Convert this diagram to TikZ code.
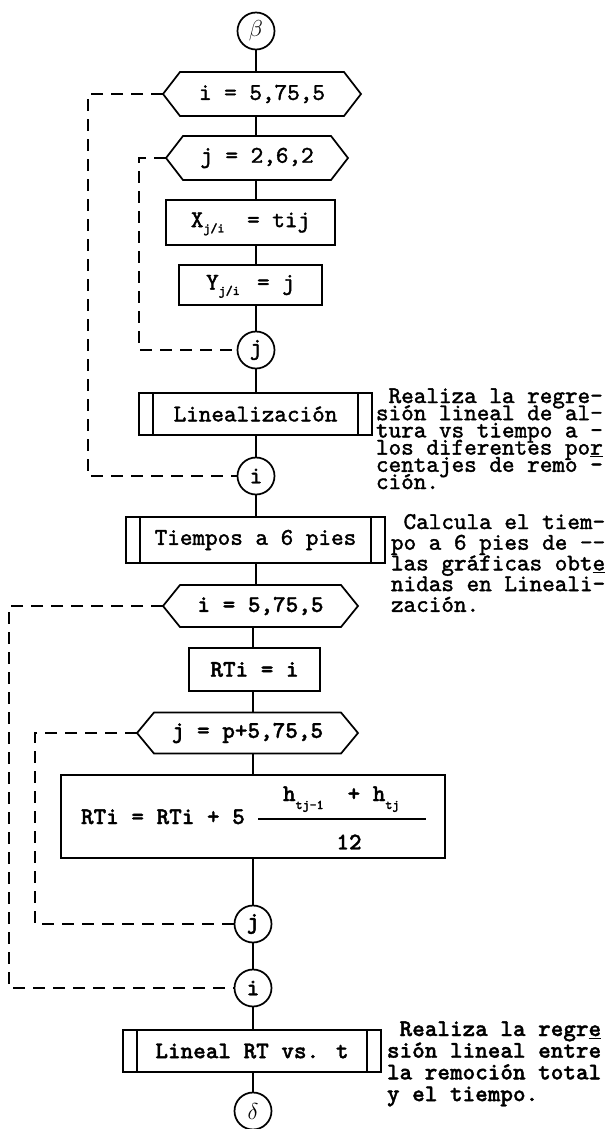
\documentclass[tikz,border=0pt]{standalone}
\usepackage{fontspec}
\newfontfamily\twr{lmmono10-regular.otf}[FakeBold=1.6]
\newfontfamily\twb{lmmonolt10-bold.otf}[FakeBold=1.4]
\newcommand\tsub[2][-4pt]{\raisebox{#1}[0pt][0pt]{\twb\fontsize{10}{10}\selectfont #2}}
\newcommand\hexdraw[1]{%
  \draw[flow] (#1.north west) -- (#1.north east) -- ([xshift=12.75pt]#1.east) -- (#1.south east) -- (#1.south west) -- ([xshift=-12.75pt]#1.west) -- cycle;
  \coordinate (#1-tip) at ([xshift=-12.75pt]#1.west);}
\tikzset{
  every node/.style={font=\twr\fontsize{18}{18}\selectfont, inner sep=0pt, outer sep=0pt},
  bold/.style={font=\twb\fontsize{18}{18}\selectfont},
  flow/.style={line width=1.3pt},
  box/.style={draw, rectangle, line width=1.3pt},
  proc/.style={box, path picture={
      \draw[line width=1.3pt] ([xshift=10.5pt]path picture bounding box.north west) -- ([xshift=10.5pt]path picture bounding box.south west);
      \draw[line width=1.3pt] ([xshift=-10.5pt]path picture bounding box.north east) -- ([xshift=-10.5pt]path picture bounding box.south east);}},
  conn/.style={draw, circle, line width=1.3pt, minimum size=27.75pt},
  hexn/.style={rectangle},
  loopline/.style={line width=1.2pt, dash pattern=on 9pt off 6pt},
  ann/.style={anchor=base west},
}
\begin{document}
\begin{tikzpicture}[x=0.75pt,y=-0.75pt]
\useasboundingbox[fill=white] (0,0) rectangle (609,1129);

% ---- first part
\node[conn] (beta) at (256,31) {$\beta$};
\node[hexn, minimum width=123pt, minimum height=33pt] (hi1) at (262,94) {i = 5,75,5};
\hexdraw{hi1}
\node[hexn, minimum width=111pt, minimum height=33pt] (hj1) at (257,158) {j = 2,6,2};
\hexdraw{hj1}
\node[box, minimum width=126.75pt, minimum height=33.75pt] (bx) at (250.5,222.5) {X\tsub{j/i}\hspace{17pt}= tij};
\node[box, minimum width=107.25pt, minimum height=30pt] (by) at (250.5,285) {Y\tsub{j/i}\hspace{13pt}= j};
\node[conn] (cj1) at (256,350) {j};
\node[proc, minimum width=174.75pt, minimum height=31.5pt] (lin) at (255.5,414) {Linealización};
\node[conn] (ci1) at (256,476) {i};
\node[proc, minimum width=194.25pt, minimum height=34.5pt] (tie) at (255.5,540) {Tiempos a 6 pies};

% ---- second part
\node[hexn, bold, minimum width=120.75pt, minimum height=31.5pt] (hi2) at (260.5,606) {i = 5,75,5};
\hexdraw{hi2}
\node[box, bold, minimum width=98.25pt, minimum height=32.25pt] (rti) at (254.5,669.5) {RTi = i};
\node[hexn, bold, minimum width=140.25pt, minimum height=30.75pt] (hj2) at (247.5,733) {j = p+5,75,5};
\hexdraw{hj2}
\node[box, minimum width=288pt, minimum height=62.25pt] (frm) at (253,816.5) {};
\node[bold, anchor=base west] (f1) at (81,824) {RTi = RTi + 5};
\node[bold, anchor=base west] (fn) at (283,801) {h\tsub[-6pt]{tj-1}\hspace{18pt}+ h\tsub[-6pt]{tj}};
\node[bold] (fd) at (349,842) {12};
\coordinate (fl) at (258,819);
\coordinate (fr) at (426,819);
\draw[flow] (fl) -- (fr);
\node[conn, bold] (cj2) at (253,924) {j};
\node[conn, bold] (ci2) at (253,988) {i};
\node[proc, bold, minimum width=193.5pt, minimum height=31.5pt] (lrt) at (252,1051) {Lineal RT vs. t};
\node[conn, bold] (del) at (253,1111) {$\delta$};

% ---- main flow
\draw[flow] (beta.south) -- (hi1.north -| beta);
\draw[flow] (hi1.south -| beta) -- (hj1.north -| beta);
\draw[flow] (hj1.south -| beta) -- (bx.north -| beta);
\draw[flow] (bx.south -| beta) -- (by.north -| beta);
\draw[flow] (by.south -| beta) -- (cj1.north);
\draw[flow] (cj1.south) -- (lin.north -| cj1);
\draw[flow] (lin.south -| cj1) -- (ci1.north);
\draw[flow] (ci1.south) -- (tie.north -| ci1);
\draw[flow] (tie.south -| ci1) -- (hi2.north -| ci1);
\draw[flow] (hi2.south -| cj2) -- (rti.north -| cj2);
\draw[flow] (rti.south -| cj2) -- (hj2.north -| cj2);
\draw[flow] (hj2.south -| cj2) -- (frm.north -| cj2);
\draw[flow] (frm.south -| cj2) -- (cj2.north);
\draw[flow] (cj2.south) -- (ci2.north);
\draw[flow] (ci2.south) -- (lrt.north -| ci2);
\draw[flow] (lrt.south -| ci2) -- (del.north);

% ---- loops
\coordinate (L1) at (88,0);
\coordinate (L2) at (139,0);
\coordinate (L3) at (9,0);
\coordinate (L4) at (35,0);
\draw[loopline] (hi1-tip) -- (hi1-tip -| L1) -- (ci1 -| L1) -- (ci1.west);
\draw[loopline] (hj1-tip) -- (hj1-tip -| L2) -- (cj1 -| L2) -- (cj1.west);
\draw[loopline] (hi2-tip) -- (hi2-tip -| L3) -- (ci2 -| L3) -- (ci2.west);
\draw[loopline] (hj2-tip) -- (hj2-tip -| L4) -- (cj2 -| L4) -- (cj2.west);

% ---- annotations
\foreach \t [count=\k] in {\hphantom{R}Realiza la regre-, sión lineal de al-, tura vs tiempo a -, los diferentes po\underline{r}, centajes de remo -, ción.}
  \node[ann] (a1-\k) at (376,{403+(\k-1)*17.2}) {\t};
\foreach \t [count=\k] in {\hphantom{C}Calcula el tiem-, po a 6 pies de -{}-, las gráficas obt\underline{e}, nidas en Lineali-, zación.}
  \node[ann] (a2-\k) at (391,{529+(\k-1)*20.7}) {\t};
\foreach \t [count=\k] in {\hphantom{R}Realiza la regr\underline{e}, sión lineal entre, la remoción total, y el tiempo.}
  \node[ann, bold] (a3-\k) at (387,{1036+(\k-1)*21.7}) {\t};
\end{tikzpicture}
\end{document}
